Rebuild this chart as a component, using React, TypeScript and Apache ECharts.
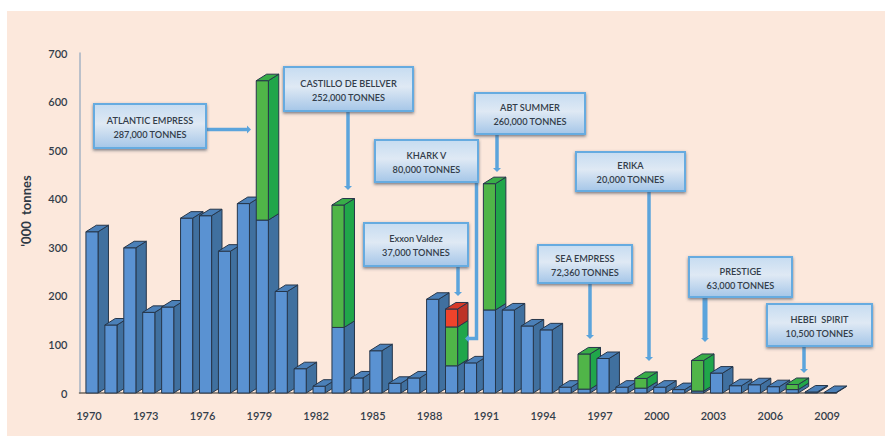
import React, { useEffect, useRef } from "react";
import * as echarts from "echarts";

const years = Array.from({ length: 40 }, (_, i) => String(1970 + i));
// other spills, '000 tonnes
const baseValues = [332, 140, 299, 166, 177, 360, 365, 292, 390, 356, 209, 50, 14, 135, 31, 87, 20, 31, 193, 56, 62, 171, 171, 138, 130, 12, 8, 71, 12, 10, 12, 7, 4, 41, 15, 17, 13, 7, 2, 1];
// named major spills (green), by year
const majorValues: Record<string, number> = { "1979": 287, "1983": 252, "1989": 80, "1991": 260, "1996": 72.36, "1999": 20, "2002": 63, "2007": 10.5 };
// Exxon Valdez (red)
const exxonValues: Record<string, number> = { "1989": 37 };

const calloutTexts = [
  ["ATLANTIC EMPRESS", "287,000 TONNES"],
  ["CASTILLO DE BELLVER", "252,000 TONNES"],
  ["KHARK V", "80,000 TONNES"],
  ["ABT SUMMER", "260,000 TONNES"],
  ["ERIKA", "20,000 TONNES"],
  ["Exxon Valdez", "37,000 TONNES"],
  ["SEA EMPRESS", "72,360 TONNES"],
  ["PRESTIGE", "63,000 TONNES"],
  ["HEBEI  SPIRIT", "10,500 TONNES"],
];

// box [x, y, w, h], then arrow polyline; the last segment carries the head
const calloutLayout: { box: number[]; arrow: number[][]; lw?: number }[] = [
  { box: [94, 104, 112, 44], arrow: [[207, 129.5], [247, 129.5]] },
  { box: [284, 67, 129, 44], arrow: [[348, 111], [348, 186]] },
  { box: [375, 140, 103, 42], arrow: [[476.5, 182], [476.5, 338.5], [469, 338.5]] },
  { box: [475, 93, 110, 41], arrow: [[497, 134], [497, 168]] },
  { box: [576, 152, 109, 39], arrow: [[649, 191], [649, 357]] },
  { box: [364, 223, 104, 43], arrow: [[458, 266], [458, 292]] },
  { box: [538, 245, 94, 38], arrow: [[590, 283], [590, 335]] },
  { box: [689, 257, 103, 40], arrow: [[705, 297], [705, 338]], lw: 5 },
  { box: [767, 304, 105, 42], arrow: [[804, 346], [804, 369]] },
];

const TEXT = "#333d4a";
const FONT = "Lato";
const ARROW = "#5ba4dc";

const BLUE = ["#5a92d2", "#40709f", "#4b80b8"];
const GREEN = ["#50b548", "#20a64a", "#38ad48"];
const RED = ["#f0432b", "#bd3327", "#d83a27"];
const EDGE = "#26364a";

function calloutGraphics() {
  const out: any[] = [];
  calloutLayout.forEach((c, i) => {
    const [x, y, w, h] = c.box;
    const lw = c.lw ?? 3.5;
    const pts = c.arrow;
    const a = pts[pts.length - 2];
    const b = pts[pts.length - 1];
    const len = Math.hypot(b[0] - a[0], b[1] - a[1]);
    const ux = (b[0] - a[0]) / len;
    const uy = (b[1] - a[1]) / len;
    out.push({
      type: "polyline",
      z: 20,
      shape: { points: pts },
      style: { stroke: ARROW, lineWidth: lw, fill: "none" },
    });
    out.push({
      type: "polygon",
      z: 20,
      shape: {
        points: [
          [b[0] + ux * 4, b[1] + uy * 4],
          [b[0] - uy * 4, b[1] + ux * 4],
          [b[0] + uy * 4, b[1] - ux * 4],
        ],
      },
      style: { fill: ARROW },
    });
    out.push({
      type: "rect",
      z: 21,
      shape: { x, y, width: w, height: h },
      style: {
        fill: new echarts.graphic.LinearGradient(0, 0, 0, 1, [
          { offset: 0, color: "#c6dcf1" },
          { offset: 0.45, color: "#dfe9f4" },
          { offset: 1, color: "#a5c6e8" },
        ]),
        stroke: "#66abe0",
        lineWidth: 2,
        shadowBlur: 3,
        shadowOffsetY: 1.5,
        shadowColor: "rgba(70,80,95,0.7)",
      },
    });
    out.push({
      type: "text",
      z: 22,
      style: {
        x: x + w / 2,
        y: y + h / 2 + 1,
        text: calloutTexts[i].join("\n"),
        align: "center",
        verticalAlign: "middle",
        font: `600 9.2px ${FONT}`,
        lineHeight: 14,
        fill: TEXT,
      },
    });
  });
  return out;
}

function renderBar(params: any, api: any) {
  const idx = api.value(0);
  const base = api.value(1);
  const major = api.value(2);
  const exxon = api.value(3);
  const band = api.size([1, 0])[0];
  const c = api.coord([idx, 0]);
  const x = c[0] - band * 0.16;
  const w = band * 0.64;
  const dx = band * 0.55;
  const dy = 6.5;
  const y0 = c[1];
  const segs: [number, number, string[]][] = [];
  let from = 0;
  ([[base, BLUE], [major, GREEN], [exxon, RED]] as [number, string[]][]).forEach(([v, col]) => {
    if (v > 0) {
      segs.push([from, from + v, col]);
      from += v;
    }
  });
  const children: any[] = [];
  const edge = { stroke: EDGE, lineWidth: 1 };
  segs.forEach(([a, b, col], si) => {
    const yb = si === 0 ? y0 : api.coord([idx, a])[1];
    const yt = api.coord([idx, b])[1];
    children.push({
      type: "polygon",
      shape: { points: [[x + w, yb], [x + w + dx, yb - dy], [x + w + dx, yt - dy], [x + w, yt]] },
      style: { fill: col[1], ...edge },
    });
    children.push({
      type: "rect",
      shape: { x, y: yt, width: w, height: yb - yt },
      style: { fill: col[0], ...edge },
    });
  });
  const top = segs[segs.length - 1];
  const yt = api.coord([idx, top[1]])[1];
  children.push({
    type: "polygon",
    shape: { points: [[x, yt], [x + dx, yt - dy], [x + w + dx, yt - dy], [x + w, yt]] },
    style: { fill: top[2][2], ...edge },
  });
  return { type: "group", children };
}

export default function App() {
  const ref = useRef<HTMLDivElement>(null);
  useEffect(() => {
    document.body.style.margin = "0";
    const chart = echarts.init(ref.current!, null, { renderer: "svg" });
    chart.setOption({
      animation: false,
      backgroundColor: "#ffffff",
      grid: { left: 79.5, top: 53, width: 757, height: 340, containLabel: false },
      xAxis: {
        type: "category",
        data: years,
        boundaryGap: true,
        axisTick: { show: false },
        axisLine: { lineStyle: { color: "#6f675f", width: 1.5 } },
        axisLabel: { interval: 2, color: TEXT, fontFamily: FONT, fontSize: 11, fontWeight: 600, margin: 17 },
      },
      yAxis: {
        type: "value",
        min: 0,
        max: 700,
        interval: 100,
        name: "'000  tonnes",
        nameLocation: "middle",
        nameRotate: 90,
        nameGap: 47,
        nameTextStyle: { color: "#2e3844", fontFamily: FONT, fontSize: 13, fontWeight: 700, padding: [0, 0, 0, 24] },
        axisLine: { show: true, lineStyle: { color: "#a6b3c4", width: 1.5 } },
        axisTick: { show: false },
        splitLine: { show: false },
        axisLabel: { color: TEXT, fontFamily: FONT, fontSize: 11, fontWeight: 600, margin: 12 },
      },
      graphic: [
        {
          type: "rect",
          z: -10,
          silent: true,
          shape: { x: 7, y: 11, width: 878, height: 425 },
          style: { fill: "#fce8dc" },
        },
        ...calloutGraphics(),
      ],
      series: [
        {
          type: "custom",
          clip: false,
          renderItem: renderBar,
          encode: { x: 0, y: 1 },
          data: years.map((y, i) => [i, baseValues[i], majorValues[y] ?? 0, exxonValues[y] ?? 0]),
        },
      ],
    });
    return () => chart.dispose();
  }, []);
  return <div ref={ref} style={{ width: 885, height: 436 }} />;
}
